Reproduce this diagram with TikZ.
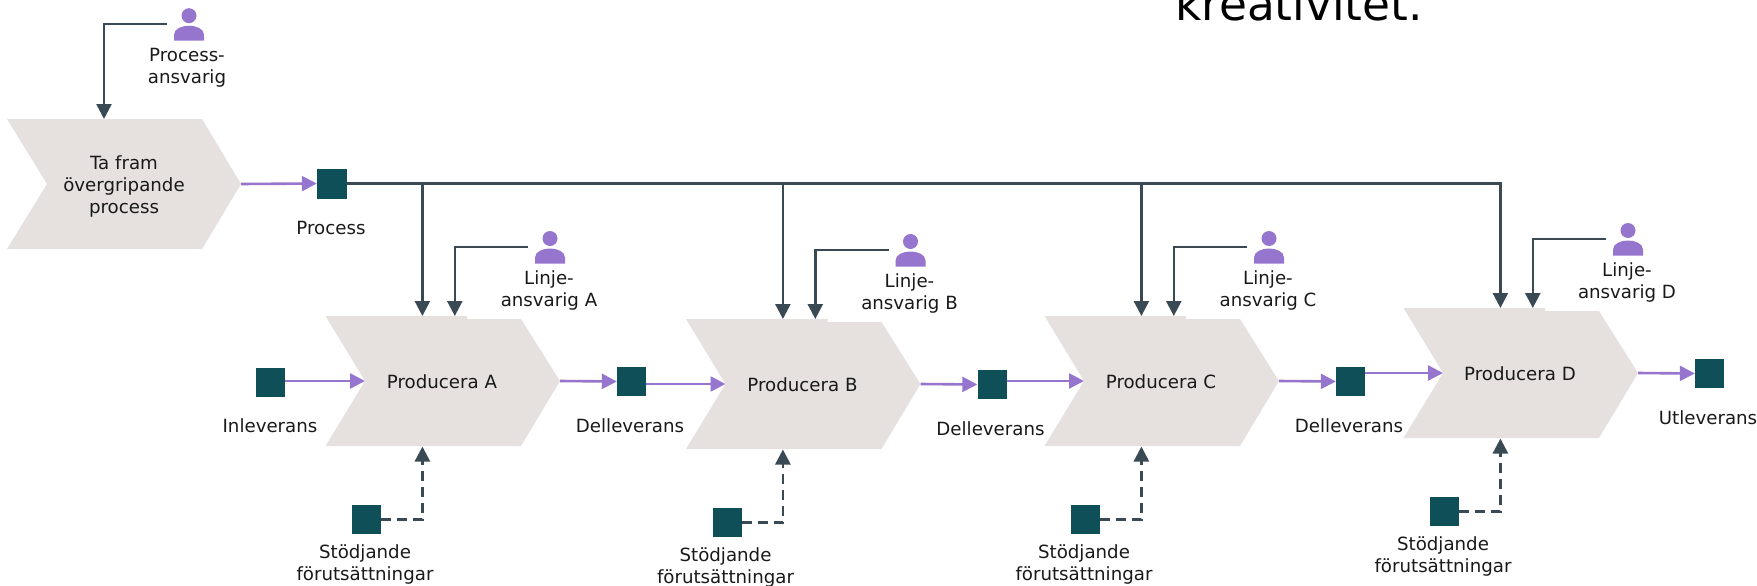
\documentclass[tikz,border=0pt]{standalone}
\usepackage{fontspec}
\setmainfont{DejaVu Sans}
\usetikzlibrary{arrows.meta}
\definecolor{beige}{HTML}{E6E1DE}
\definecolor{lila}{HTML}{9575CD}
\definecolor{teal}{HTML}{0F4F58}
\definecolor{slate}{HTML}{3A4A54}
\tikzset{
	flow/.style={draw=slate, line width=2.5pt, -{Triangle[length=15pt,width=15pt]}},
	support/.style={flow, dash pattern=on 10pt off 6pt},
	output/.style={draw=lila, line width=2.6pt, -{Triangle[length=15pt,width=15pt]}},
	deliverable/.style={fill=teal, minimum size=29pt, inner sep=0pt},
	caption/.style={align=center, text=black!90, font=\fontsize{18.2}{22}\selectfont},
	person/.pic={
		\fill[lila] (0,0) circle (7.5);
		\fill[lila] (-15,25) -- (-15,19) .. controls (-15,13) and (-7,10) .. (0,10) .. controls (7,10) and (15,13) .. (15,19) -- (15,25) -- cycle;
	}
}
\begin{document}
\begin{tikzpicture}[x=1pt, y=-1pt]
		\useasboundingbox (0,0) rectangle (1757,586);
		\clip (0,0) rectangle (1757,586);
		\node[anchor=base west, inner sep=0pt, font=\fontsize{45.4}{50}\selectfont] (tagline) at (1175,21) {kreativitet.};

		\fill[beige] (7,119) -- (202,119) -- (241,184) -- (202,249) -- (7,249) -- (47,184) -- cycle;
		\node[caption] (takeprocess) at (124,186) {Ta fram\\övergripande\\process};
		\coordinate (takeprocessTop) at (104,119);
		\coordinate (takeprocessTip) at (241,184);
		\pic at (189,15.7) {person};
		\coordinate (ownerProcess) at (167,24);
		\node[caption] (ownerProcessText) at (187,67.5) {Process-\\ansvarig};
		\draw[flow] (ownerProcess) -| (takeprocessTop);

		\node[deliverable, minimum size=30pt] (process) at (332,183.5) {};
		\node[caption] (processText) at (331,228) {Process};
		\draw[output] (takeprocessTip) -- (process.west);

		\node[deliverable] (inleverans) at (270.5,382.5) {};
		\node[caption] (inleveransText) at (270,426) {Inleverans};

		\foreach \name/\dx/\dy/\prev/\outtext in {A/0/0/inleverans/Delleverans, B/360.5/3/outA/Delleverans, C/719/0/outB/Delleverans, D/1078/-8/outC/Utleverans} {
			\begin{scope}[shift={(\dx,\dy)}]
				\fill[beige] (325.5,316) -- (467,316) -- (467,319) -- (521,319) -- (560,381) -- (521,446) -- (325.5,446) -- (365,381) -- cycle;
				\node[caption] (prod\name) at (442,381.5) {Producera \name};
				\coordinate (prod\name Top) at (422.4,316);
				\coordinate (prod\name Bottom) at (422.4,446.5);
				\coordinate (prod\name In) at (365,381);
				\coordinate (prod\name Tip) at (560,381);

				\pic at (550,238.5) {person};
				\coordinate (owner\name) at (528,247);
				\coordinate (ownerEnd\name) at (454.8,316);
				\node[caption] (owner\name Text) at (549,290) {Linje-\\ansvarig \name};
				\draw[flow] (owner\name) -| (ownerEnd\name);

				\node[deliverable] (support\name) at (366.5,519.5) {};
				\node[caption] (support\name Text) at (365,564.5) {Stödjande\\förutsättningar};
				\draw[support] (support\name.east) -| (prod\name Bottom);

				\node[deliverable] (out\name) at (631.5,381.5) {};
				\node[caption] (out\name Text) at (630,426) {\outtext};
				\draw[output] (prod\name Tip) -- (out\name.west);
			\end{scope}
			\draw[flow] (process.east) -| (prod\name Top);
			\draw[output] (\prev.east |- prod\name In) -- (prod\name In);
		}
	\end{tikzpicture}
\end{document}
